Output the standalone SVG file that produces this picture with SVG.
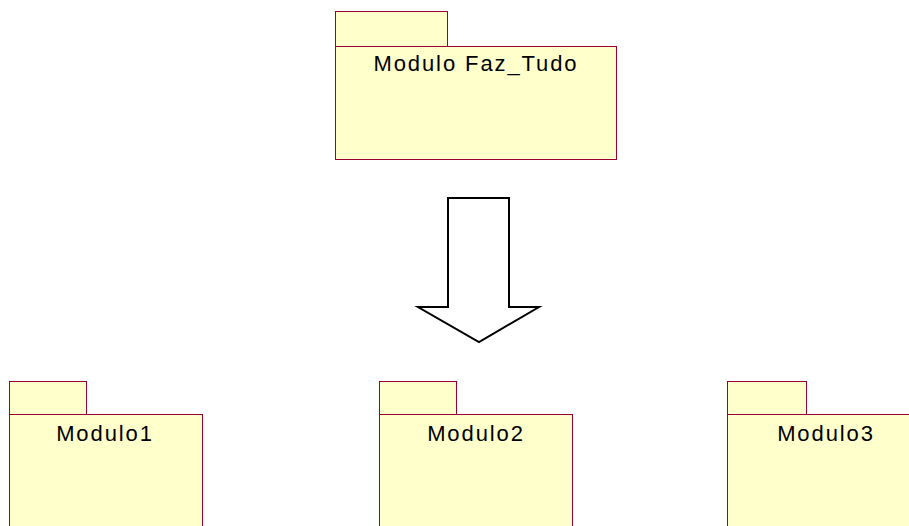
<svg xmlns="http://www.w3.org/2000/svg" width="909" height="526" viewBox="0 0 909 526">
  <style>
    .pkg { fill: #FFFFCC; stroke: #990033; stroke-width: 1; }
    .label { font-family: "Liberation Sans", Arial, sans-serif; font-size: 22px; letter-spacing: 1.9px; fill: #000000; text-anchor: middle; }
    .refine { fill: #FFFFFF; stroke: #000000; stroke-width: 2; stroke-linejoin: miter; }
  </style>
  <rect width="909" height="526" fill="#FFFFFF"/>

  <!-- top-level package -->
  <g id="modulo-faz-tudo">
    <rect class="pkg" x="335.5" y="11.5" width="112" height="35"/>
    <rect class="pkg" x="335.5" y="46.5" width="281" height="113"/>
    <text class="label" x="476" y="71">Modulo Faz_Tudo</text>
  </g>

  <!-- decomposition arrow -->
  <g id="connectors">
    <polygon class="refine" points="448,198 509,198 509,307 539,307 479,342 418,307 448,307"/>
  </g>

  <g id="modulo1">
    <rect class="pkg" x="9.5" y="381.5" width="77" height="33"/>
    <rect class="pkg" x="9.5" y="414.5" width="193" height="130"/>
    <text class="label" x="105" y="441">Modulo1</text>
  </g>

  <g id="modulo2">
    <rect class="pkg" x="379.5" y="381.5" width="77" height="33"/>
    <rect class="pkg" x="379.5" y="414.5" width="193" height="130"/>
    <text class="label" x="476" y="441">Modulo2</text>
  </g>

  <g id="modulo3">
    <rect class="pkg" x="727.5" y="381.5" width="79" height="33"/>
    <rect class="pkg" x="727.5" y="414.5" width="196" height="130"/>
    <text class="label" x="826" y="441">Modulo3</text>
  </g>
</svg>
